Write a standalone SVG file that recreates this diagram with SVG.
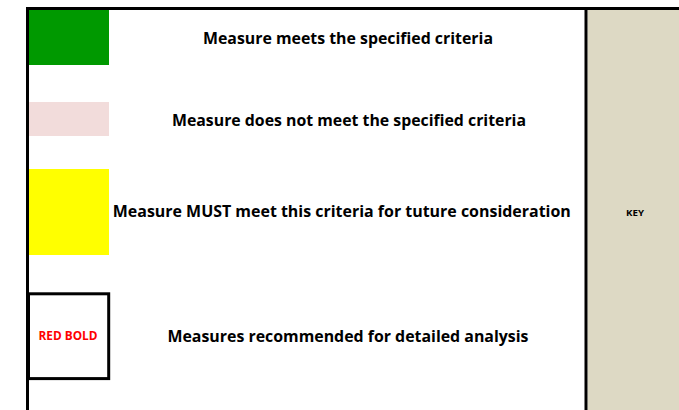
<svg xmlns="http://www.w3.org/2000/svg" width="679" height="410" viewBox="0 0 679 410">
<style>
.lbl{font-family:"Open Sans","Liberation Sans",sans-serif;font-weight:bold;font-size:16px;fill:#000;}
.line{stroke:#000;stroke-width:3;fill:none;}
.sw{stroke:none;}
</style>
<rect width="679" height="410" fill="#fff"/>
<g id="key-panel">
<rect x="587.5" y="10" width="91.5" height="400" fill="#DDD9C4"/>
<text x="635" y="216" text-anchor="middle" font-family="Open Sans, Liberation Sans, sans-serif" font-weight="bold" font-size="9" textLength="18" lengthAdjust="spacingAndGlyphs">KEY</text>
</g>
<g id="frame">
<line class="line" x1="26" y1="8.5" x2="679" y2="8.5"/>
<line class="line" x1="27.5" y1="7" x2="27.5" y2="410"/>
<line class="line" x1="586" y1="7" x2="586" y2="410"/>
</g>
<g id="meets">
<rect class="sw" x="29" y="10" width="80" height="55" fill="#009900"/>
<text class="lbl" x="348" y="43.5" text-anchor="middle" textLength="290" lengthAdjust="spacingAndGlyphs">Measure meets the specified criteria</text>
</g>
<g id="not-meet">
<rect class="sw" x="29" y="102" width="80" height="34" fill="#F2DCDB"/>
<text class="lbl" x="349" y="125.5" text-anchor="middle" textLength="354" lengthAdjust="spacingAndGlyphs">Measure does not meet the specified criteria</text>
</g>
<g id="must-meet">
<rect class="sw" x="29" y="169" width="80" height="86" fill="#FFFF00"/>
<text class="lbl" x="341.8" y="217" text-anchor="middle" textLength="458" lengthAdjust="spacingAndGlyphs">Measure MUST meet this criteria for tuture consideration</text>
</g>
<g id="recommended">
<rect x="28.5" y="293.8" width="80.2" height="84.8" fill="#fff" stroke="#000" stroke-width="3"/>
<text x="68" y="339.5" text-anchor="middle" font-family="Open Sans, Liberation Sans, sans-serif" font-weight="bold" font-size="11.5" fill="#FF0000" textLength="59" lengthAdjust="spacingAndGlyphs">RED BOLD</text>
<text class="lbl" x="348" y="341.5" text-anchor="middle" textLength="361" lengthAdjust="spacingAndGlyphs">Measures recommended for detailed analysis</text>
</g>
<g id="connectors"></g>
</svg>
